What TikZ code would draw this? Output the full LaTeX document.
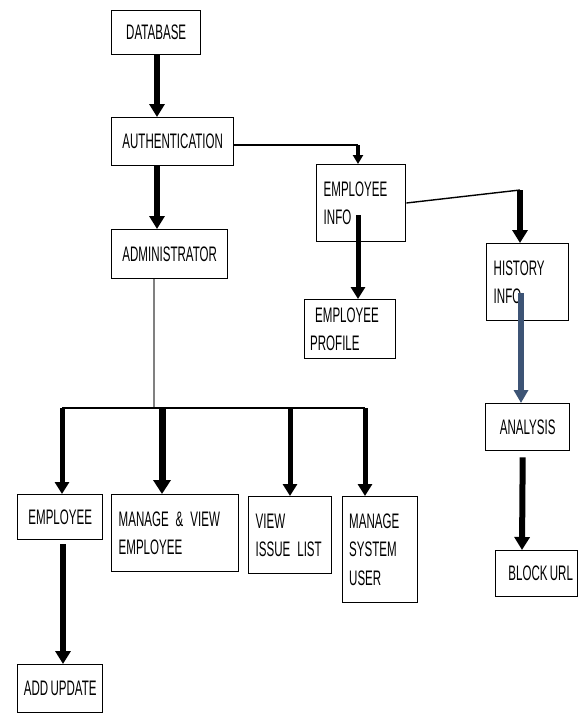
\documentclass[tikz,border=0pt]{standalone}
\usepackage{fontspec}
\setmainfont{Liberation Sans}[FakeStretch=0.55,WordSpace=0.7]
\usetikzlibrary{arrows.meta,calc}
\definecolor{slate}{HTML}{3D5475}
\begin{document}
\begin{tikzpicture}[x=1pt,y=-1pt,
  box/.style={draw=black,line width=1.4pt,fill=white,anchor=north west,inner sep=0pt,
    font=\fontsize{21}{28.5}\selectfont},
  big/.style={line width=6pt,-{Triangle[width=15pt,length=13pt]}},
  mid/.style={line width=5pt,-{Triangle[width=14pt,length=12pt]}},
  small/.style={line width=3.5pt,-{Triangle[width=10pt,length=9pt]}},
  thin/.style={line width=1.4pt}]
\useasboundingbox[fill=white] (0,0) rectangle (578,713);

% boxes
\node[box,minimum width=89pt,minimum height=44pt] (db) at (111,10) {DATABASE};
\node[box,minimum width=122pt,minimum height=48pt] (auth) at (111,117) {AUTHENTICATION};
\node[box,minimum width=116pt,minimum height=49pt] (admin) at (111,229) {ADMINISTRATOR};
\node[box,minimum width=89pt,minimum height=77pt,text width=75pt,align=left] (einfo) at (316,164) {EMPLOYEE\\INFO};
\node[box,minimum width=91pt,minimum height=59pt,text width=80pt,align=left] (eprof) at (304,299) {\hspace*{5pt}EMPLOYEE\\PROFILE};
\node[box,minimum width=82pt,minimum height=77pt,text width=68pt,align=left] (hist) at (486,243) {HISTORY\\INFO};
\node[box,minimum width=84pt,minimum height=47pt] (anal) at (485,403) {ANALYSIS};
\node[box,minimum width=82pt,minimum height=46pt] (block) at (495,550) {\hspace*{8pt}BLOCK URL};
\node[box,minimum width=85pt,minimum height=45pt] (emp) at (17,494) {EMPLOYEE};
\node[box,minimum width=127pt,minimum height=77pt,text width=113pt,align=left] (mview) at (111,494) {MANAGE \& VIEW\\EMPLOYEE};
\node[box,minimum width=83pt,minimum height=77pt,text width=69pt,align=left] (issue) at (248,496) {VIEW\\ISSUE LIST};
\node[box,minimum width=75pt,minimum height=106pt,text width=62pt,align=left] (msys) at (342,496) {MANAGE\\SYSTEM\\USER};
\node[box,minimum width=85pt,minimum height=48pt] (addu) at (17,664) {ADD UPDATE};

% coordinates
\coordinate (a1) at (358,145);
\coordinate (e1) at (358,215);
\coordinate (h0) at (520,190);
\coordinate (h1) at (521,293);
\coordinate (j0) at (154,408);
\coordinate (jl) at (62,408);
\coordinate (jr) at (365,408);

% connectors
\draw[big] (db.south -| 157,0) -- (auth.north -| 157,0);
\draw[big] (auth.south -| 157,0) -- (admin.north -| 157,0);
\draw[thin] (auth.east |- a1) -- (a1);
\draw[small] (a1) -- (einfo.north -| a1);
\draw[mid] (e1) -- (eprof.north -| e1);
\draw[thin] (einfo.east |- 0,203) -- (h0);
\draw[big] (h0) -- (hist.north -| h0);
\draw[line width=6pt,slate,-{Triangle[width=14pt,length=13pt]}] (h1) -- (anal.north -| h1);
\draw[big] ($(anal.south)+(-5,6)$) -- (block.north -| 522,0);
\draw[line width=1.4pt,gray] (admin.south -| j0) -- (j0);
\draw[line width=1.8pt] (jl) -- (jr);
\draw[mid] (jl) -- (emp.north -| jl);
\draw[line width=7pt,-{Triangle[width=17pt,length=14pt]}] (162,408) -- (mview.north -| 162,0);
\draw[mid] (290,408) -- (issue.north -| 290,0);
\draw[mid] (jr) -- (msys.north -| jr);
\draw[big] ($(emp.south -| 63,0)+(0,4)$) -- (addu.north -| 63,0);
\end{tikzpicture}
\end{document}
